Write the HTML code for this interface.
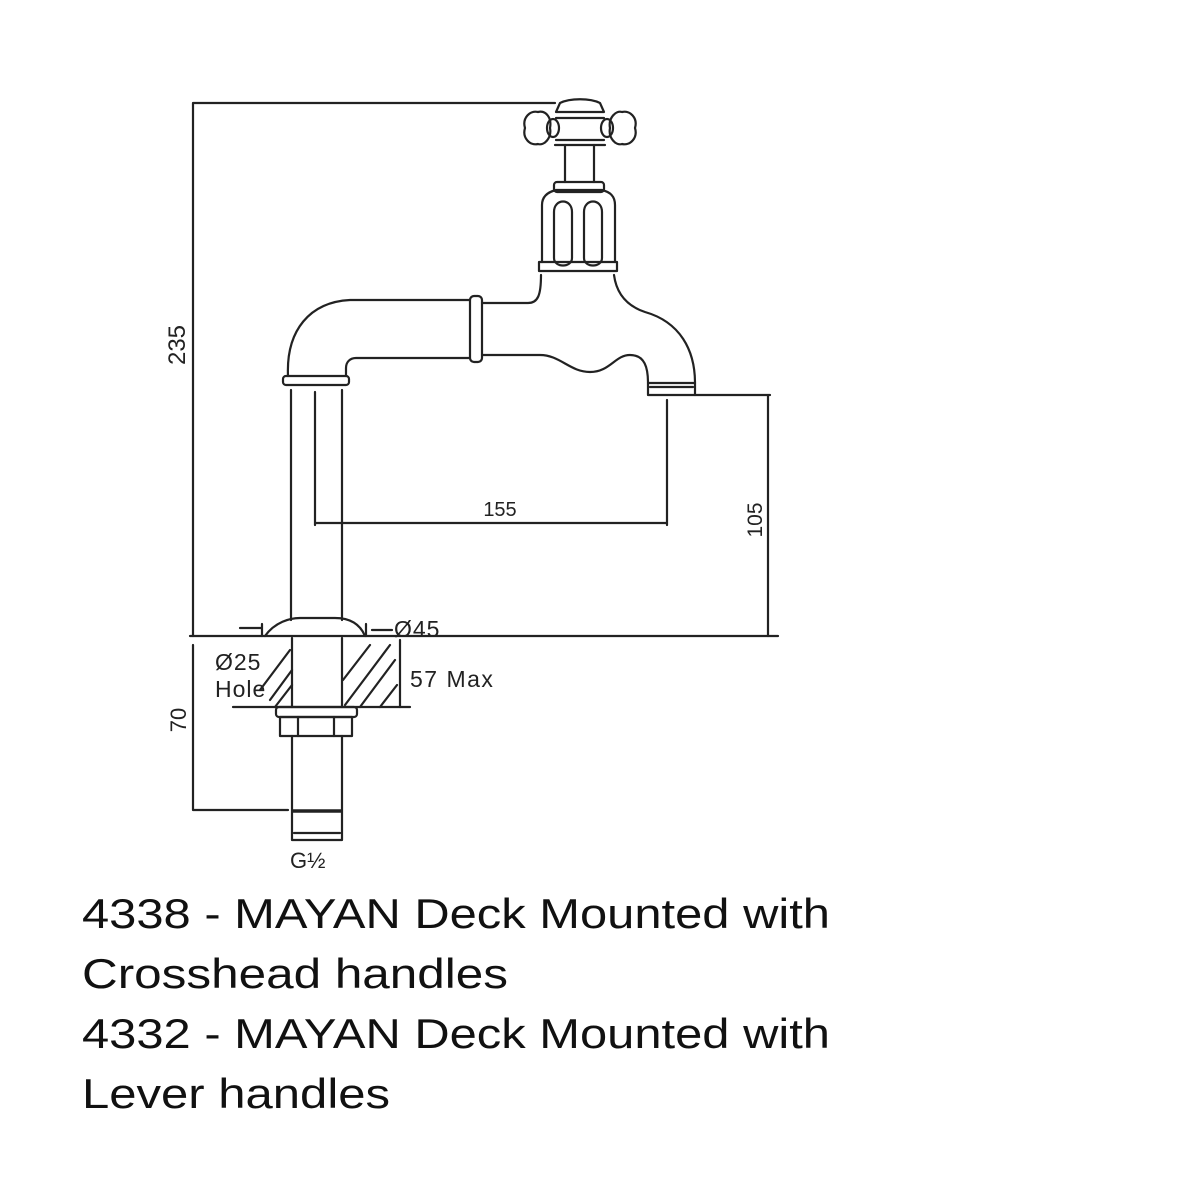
<!DOCTYPE html>
<html><head><meta charset="utf-8"><style>
html,body{margin:0;padding:0;background:#fff;width:1200px;height:1200px;overflow:hidden}
svg{display:block}
</style></head><body>
<svg width="1200" height="1200" viewBox="0 0 1200 1200" xmlns="http://www.w3.org/2000/svg">
<g fill="none" stroke="#222" stroke-width="2.2" stroke-linecap="round" stroke-linejoin="round">
<path d="M555 103 H193 V636"/>
<path d="M190 636 H778"/>
<path d="M695 395 H770 M768 395 V636"/>
<path d="M667 400 V525 M315 392 V525 M315 523 H667"/>
<path d="M291 390 V620 M342 390 V620"/>
<rect x="283" y="376" width="66" height="9" rx="3"/>
<path d="M288 376 C286 330 310 302 350 300 H470"/>
<path d="M346 376 V368 C346 362 350 358 356 358 H470"/>
<rect x="470" y="296" width="12" height="66" rx="4"/>
<path d="M482 303 H528 C538 303 541 295 541 275"/>
<path d="M614 275 C616 290 624 305 645 312 C680 322 695 350 695 383"/>
<path d="M482 355 H540 C560 355 570 372 590 372 C610 372 615 355 630 355 C645 355 648 368 648 383"/>
<rect x="648" y="383" width="47" height="12"/>
<path d="M650 387 H693"/>
<rect x="539" y="262" width="78" height="9"/>
<path d="M542 262 V205 C542 196 548 192 556 190 H602 C610 192 615 196 615 205 V262"/>
<path d="M554 258 V212 C554 198 572 198 572 212 V258 C572 268 554 268 554 258 Z M584 258 V212 C584 198 602 198 602 212 V258 C602 268 584 268 584 258 Z"/>
<rect x="554" y="182" width="50" height="10" rx="3"/>
<path d="M565 182 V145 M594 182 V145"/>
<path d="M555 145 H605"/>
<path d="M560 103 C570 98 590 98 600 103 L604 112 H556 Z"/>
<path d="M556 118 H604 M556 140 H604"/>
<path d="M525 128 C522 118 530 110 538 112 C546 110 552 118 550 128 C552 138 544 146 538 144 C530 146 522 138 525 128 Z"/>
<path d="M610 128 C608 118 616 110 622 112 C630 110 638 118 635 128 C638 138 630 146 622 144 C616 146 608 138 610 128 Z"/>
<ellipse cx="553" cy="128" rx="6" ry="9"/>
<ellipse cx="607" cy="128" rx="6" ry="9"/>
<path d="M265 636 C275 622 290 618 300 618 H335 C350 618 360 624 365 636"/>
<path d="M292 638 V707 M342 638 V707"/>
<path d="M233 707 H410"/>
<path d="M270 700 L292 670 M260 690 L290 650 M275 707 L292 685 M345 705 L390 645 M360 707 L395 660 M343 680 L370 645 M380 707 L397 685"/>
<rect x="276" y="707" width="81" height="10" rx="3"/>
<rect x="280" y="717" width="72" height="19"/>
<path d="M298 717 V736 M334 717 V736"/>
<path d="M292 736 V840 M342 736 V840 M292 840 H342"/>
<path d="M293 811 H341" stroke-width="3.5"/>
<path d="M294 833 H340"/>
<path d="M193 645 V810 H288"/>
<path d="M400 640 V707"/>
<path d="M240 628 H262 M372 630 H392 M262 624 V636 M366 624 V636"/>
</g>
<g font-family="'Liberation Sans', sans-serif" fill="#222">
<text x="185" y="345" font-size="24" transform="rotate(-90 185 345)" text-anchor="middle">235</text>
<text x="762" y="520" font-size="21" transform="rotate(-90 762 520)" text-anchor="middle">105</text>
<text x="186" y="720" font-size="22" transform="rotate(-90 186 720)" text-anchor="middle">70</text>
<text x="500" y="516" font-size="20" text-anchor="middle">155</text>
<text x="394" y="637" font-size="23" letter-spacing="1">Ø45</text>
<text x="215" y="670" font-size="23" letter-spacing="1">Ø25</text>
<text x="215" y="697" font-size="23" letter-spacing="1">Hole</text>
<text x="410" y="687" font-size="23" letter-spacing="1.5">57 Max</text>
<text x="290" y="868" font-size="22">G½</text>
</g>
<g font-family="'Liberation Sans', sans-serif" fill="#111" font-size="42">
<text x="82" y="928" textLength="748" lengthAdjust="spacingAndGlyphs">4338 - MAYAN Deck Mounted with</text>
<text x="82" y="988" textLength="426" lengthAdjust="spacingAndGlyphs">Crosshead handles</text>
<text x="82" y="1048" textLength="748" lengthAdjust="spacingAndGlyphs">4332 - MAYAN Deck Mounted with</text>
<text x="82" y="1108" textLength="308" lengthAdjust="spacingAndGlyphs">Lever handles</text>
</g>
</svg>
</body></html>
